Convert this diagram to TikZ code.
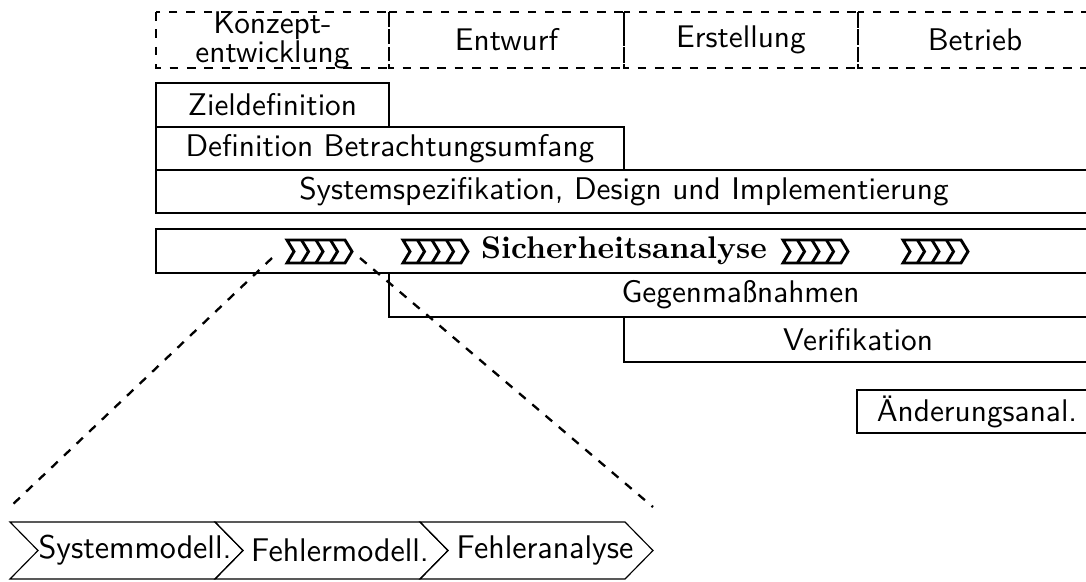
\documentclass[tikz,border=0pt]{standalone}
\usepackage{fontspec}
\tikzset{
  phase/.style={thick, dashed},
  bar/.style={thick},
  chev/.style={thin},
  zoomline/.style={thick, dashed},
  chevs/.pic={
    \draw[line width=1pt, fill=white] (0,0) -- (58,0) -- (65,11.5) -- (58,23) -- (0,23) -- (7,11.5) -- cycle;
    \foreach \i in {1,2,3}
      \draw[line width=1pt] (\i*14.5,0) -- (\i*14.5+7,11.5) -- (\i*14.5,23);
  }
}
\begin{document}
\begin{tikzpicture}[x=0.345pt, y=-0.345pt, every node/.style={align=center, font=\sffamily\fontsize{10.8pt}{13pt}\selectfont}]
  \useasboundingbox (0,0) rectangle (1086,581);
  \clip (0,0) rectangle (1086,581);

  % Phasen (gestrichelt)
  \draw[phase] (156,12) rectangle (389,68) node[midway] (konzept) {Konzept-\\[-3pt]entwicklung};
  \draw[phase] (389,12) rectangle (624,68) node[midway] (entwurf) {Entwurf};
  \draw[phase] (624,12) rectangle (858,68) node[midway] (erstellung) {Erstellung};
  \draw[phase] (858,12) rectangle (1092,68) node[midway] (betrieb) {Betrieb};

  % Aktivitaeten
  \draw[bar] (156,83) rectangle (389,127) node[midway] (ziel) {Zieldefinition};
  \draw[bar] (156,127) rectangle (624,170) node[midway] (umfang) {Definition Betrachtungsumfang};
  \draw[bar] (156,170) rectangle (1092,213) node[midway] (design) {Systemspezifikation, Design und Implementierung};
  \draw[bar] (156,229) rectangle (1092,273) node[midway, font=\rmfamily\bfseries\fontsize{10.8pt}{13pt}\selectfont] (sicher) {Sicherheitsanalyse};
  \draw[bar] (389,273) rectangle (1092,317) node[midway] (gegen) {Gegenma\ss nahmen};
  \draw[bar] (624,317) rectangle (1092,362) node[midway] (verif) {Verifikation};
  \draw[bar] (857,390) rectangle (1097,433) node[midway] (aend) {Änderungsanal.};

  % Pfeilketten in der Sicherheitsanalyse
  \foreach \x in {287,403,783,903}
    \pic at (\x,240) {chevs};

  % Detailansicht
  \coordinate (zl) at (272,258);
  \coordinate (zr) at (360,258);
  \coordinate (bl) at (10,507);
  \coordinate (br) at (653,507);
  \draw[zoomline] (zl) -- (bl);
  \draw[zoomline] (zr) -- (br);

  \foreach \x/\name/\txt in {10/sysm/Systemmodell., 215/fehm/Fehlermodell., 420/fehla/Fehleranalyse}{
    \draw[chev] (\x,522) -- ++(205,0) -- ++(28,28.5) -- ++(-28,28.5) -- ++(-205,0) -- ++(28,-28.5) -- cycle;
    \node[font=\sffamily\fontsize{11.3pt}{14pt}\selectfont] (\name) at (\x+125,550) {\txt};
  }
\end{tikzpicture}
\end{document}
